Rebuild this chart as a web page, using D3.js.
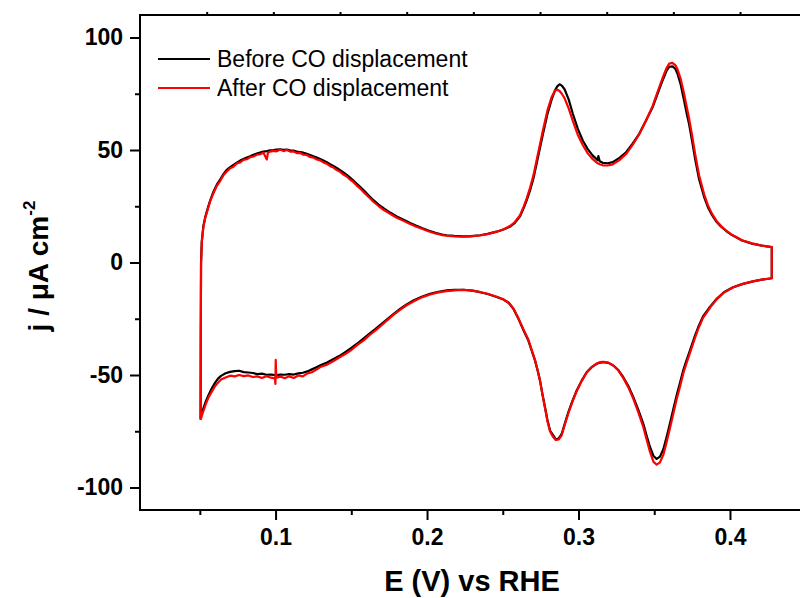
<!DOCTYPE html>
<html>
<head>
<meta charset="utf-8">
<script src="https://cdn.jsdelivr.net/npm/d3@7"></script>
<style>
  body { margin: 0; background: #fff; }
  text { font-family: "Liberation Sans", Arial, sans-serif; }
</style>
</head>
<body>
<div id="chart"></div>
<script>
// ---- data ----
// anodic branch (0.05 -> 0.43 V)
var upE = [0.0505,0.0506,0.0508,0.0513,0.0523,0.0535,0.0546,0.0557,0.0568,0.0590,0.0612,0.0635,0.0657,0.0678,0.0700,0.0722,0.0744,0.0766,0.0788,0.0810,0.0832,0.0854,0.0876,0.0898,0.0920,0.0942,0.0950,0.0964,0.0985,0.1007,0.1030,0.1052,0.1074,0.1096,0.1118,0.1140,0.1162,0.1184,0.1206,0.1228,0.1250,0.1272,0.1294,0.1316,0.1338,0.1360,0.1382,0.1404,0.1426,0.1448,0.1470,0.1492,0.1514,0.1536,0.1560,0.1590,0.1620,0.1646,0.1680,0.1715,0.1756,0.1800,0.1845,0.1888,0.1930,0.1970,0.2009,0.2060,0.2100,0.2130,0.2180,0.2240,0.2290,0.2350,0.2400,0.2460,0.2510,0.2550,0.2580,0.2614,0.2640,0.2658,0.2680,0.2702,0.2730,0.2766,0.2795,0.2823,0.2845,0.2860,0.2875,0.2890,0.2908,0.2935,0.2963,0.2995,0.3028,0.3060,0.3094,0.3127,0.3131,0.3140,0.3160,0.3193,0.3226,0.3270,0.3314,0.3357,0.3401,0.3445,0.3489,0.3522,0.3555,0.3580,0.3599,0.3620,0.3640,0.3653,0.3675,0.3697,0.3715,0.3730,0.3750,0.3770,0.3796,0.3830,0.3855,0.3882,0.3910,0.3940,0.3975,0.4013,0.4080,0.4145,0.4210,0.4276];
var upBefore = [-69.5,-35,0,9.5,16,20,22.6,25.2,27.5,31.5,34.6,37,39.4,41.2,42.4,43.4,44.4,45.3,46.0,46.7,47.2,47.9,48.4,48.9,49.3,49.5,49.6,49.9,50.0,50.2,50.3,50.1,50.2,49.9,49.7,49.3,49.1,48.8,48.3,47.8,47.2,46.7,46.0,45.3,44.6,43.7,42.9,42.0,41.0,40.0,38.9,37.7,36.4,35.0,33.5,31.5,29.4,27.7,25.7,24.0,22.2,20.5,19.0,17.6,16.3,15.2,14.2,13.1,12.4,12.1,11.8,11.6,11.7,12.1,12.7,13.7,14.8,16.0,17.6,20.5,24.5,27.6,32.0,37.2,46.0,57.3,66.0,72.5,76.5,78.3,79.2,78.6,77.0,72.5,66.0,59.5,54.2,50.5,47.5,45.5,47.3,45.0,44.3,44.1,44.6,46.5,49.0,52.8,57.2,63.0,69.0,75.0,80.9,85.0,87.0,87.2,86.0,84.0,79.0,72.0,66.0,61.5,54.0,46.0,37.0,29.0,24.5,21.0,18.2,16.0,14.0,12.2,9.8,8.4,7.5,6.8];
var upAfter = [-70,-36,-1,9,15.5,19.6,22.1,24.6,27.2,30.8,34.1,36.3,38.9,40.4,41.9,42.6,44.0,44.5,45.6,45.9,46.8,47.1,47.9,48.1,48.8,45.8,48.9,49.3,49.6,49.4,50.2,49.5,50.0,49.3,49.4,48.6,48.7,47.9,47.8,46.9,46.6,45.8,45.4,44.5,43.9,42.8,42.2,41.1,40.3,39.1,38.2,36.8,35.7,34.2,32.8,30.7,28.8,27.0,25.1,23.3,21.7,19.9,18.5,17.1,15.9,14.9,13.9,12.8,12.2,11.9,11.6,11.5,11.6,12.0,12.6,13.7,14.9,16.3,18.0,21.0,25.2,28.5,33.2,38.6,47.6,59.0,67.6,73.6,76.4,76.8,76.2,75.0,73.0,68.5,62.8,56.8,52.2,48.6,45.9,44.1,44.0,43.7,43.2,43.1,43.6,45.5,48.2,52.3,57.0,63.0,69.5,75.8,82.0,86.3,88.4,88.7,87.6,86.0,81.5,75.0,69.0,64.0,56.5,48.3,38.8,30.2,25.4,21.6,18.6,16.3,14.2,12.3,9.9,8.5,7.5,6.8];

// cathodic branch (0.43 -> 0.05 V)
var downE = [0.4276,0.4210,0.4152,0.4080,0.4020,0.3960,0.3914,0.3870,0.3822,0.3790,0.3769,0.3736,0.3710,0.3692,0.3670,0.3648,0.3625,0.3604,0.3580,0.3560,0.3538,0.3516,0.3495,0.3472,0.3450,0.3428,0.3395,0.3362,0.3330,0.3296,0.3263,0.3230,0.3197,0.3164,0.3142,0.3120,0.3087,0.3054,0.3021,0.2988,0.2960,0.2933,0.2910,0.2889,0.2870,0.2850,0.2830,0.2812,0.2795,0.2779,0.2762,0.2746,0.2730,0.2713,0.2690,0.2669,0.2636,0.2600,0.2570,0.2540,0.2500,0.2460,0.2400,0.2350,0.2300,0.2240,0.2180,0.2130,0.2075,0.2020,0.1965,0.1910,0.1865,0.1822,0.1780,0.1740,0.1700,0.1660,0.1620,0.1580,0.1540,0.1500,0.1460,0.1420,0.1380,0.1340,0.1300,0.1270,0.1240,0.1210,0.1180,0.1150,0.1120,0.1090,0.1060,0.1030,0.1005,0.1001,0.0999,0.0996,0.0970,0.0940,0.0910,0.0880,0.0850,0.0820,0.0790,0.0760,0.0730,0.0700,0.0670,0.0640,0.0620,0.0600,0.0580,0.0560,0.0540,0.0525,0.0512,0.0505];
var downBefore = [-7.0,-7.6,-8.4,-9.6,-11.0,-13.2,-16.0,-19.5,-24.0,-28.8,-32.5,-39.0,-44.0,-47.8,-53.5,-59.0,-65.5,-71.5,-78.0,-83.0,-86.3,-87.3,-86.0,-82.0,-77.0,-71.7,-65.5,-59.9,-55.0,-51.0,-47.8,-45.8,-44.6,-44.3,-44.5,-45.0,-46.5,-48.8,-52.5,-56.9,-61.5,-66.5,-71.5,-76.2,-78.2,-78.6,-76.5,-74.7,-70.0,-64.3,-58.5,-52.5,-48.0,-43.6,-39.0,-34.7,-30.0,-24.5,-20.6,-18.0,-16.3,-15.3,-14.0,-13.2,-12.5,-12.1,-12.2,-12.4,-13.0,-13.9,-15.2,-16.9,-18.6,-20.6,-22.8,-25.0,-27.3,-29.5,-31.6,-33.8,-36.0,-38.0,-39.8,-41.6,-43.0,-44.4,-45.6,-46.6,-47.5,-48.4,-49.0,-49.3,-49.8,-49.6,-49.9,-49.8,-50.1,-50.2,-50.3,-50.0,-49.8,-49.9,-49.4,-49.6,-49.1,-48.9,-48.7,-48.1,-48.3,-48.6,-49.2,-50.4,-51.6,-53.5,-55.8,-58.5,-61.6,-64.5,-67.5,-69.5];
var downAfter = [-7.0,-7.6,-8.4,-9.6,-11.1,-13.4,-16.3,-19.9,-24.6,-29.6,-33.5,-40.2,-45.4,-49.2,-55.2,-60.8,-67.5,-73.6,-80.3,-85.5,-88.8,-89.8,-88.6,-84.2,-78.8,-73.2,-66.6,-60.6,-55.6,-51.4,-48.0,-45.8,-44.5,-44.1,-44.3,-44.9,-46.5,-48.9,-52.7,-57.2,-61.9,-67.0,-72.0,-76.8,-78.6,-78.9,-77.3,-75.0,-70.5,-64.8,-58.8,-52.6,-47.8,-43.3,-38.6,-34.3,-29.6,-24.3,-20.4,-17.9,-16.2,-15.2,-13.9,-13.1,-12.5,-12.2,-12.4,-12.7,-13.3,-14.2,-15.5,-17.3,-19.0,-21.1,-23.2,-25.5,-27.8,-30.2,-32.3,-34.7,-36.6,-38.9,-40.7,-42.2,-43.9,-45.4,-46.3,-47.6,-48.8,-49.3,-50.6,-50.2,-51.3,-50.6,-51.4,-50.7,-51.2,-43.3,-54.0,-51.5,-51.2,-50.5,-51.3,-50.6,-50.9,-50.2,-50.5,-50.0,-50.6,-50.3,-51.1,-52.0,-53.4,-55.0,-57.3,-59.6,-62.8,-65.7,-68.3,-70.0];

var seriesNames = ["Before CO displacement", "After CO displacement"];
var seriesColors = ["#000000", "#ff0000"];

var xMajor = [0.1, 0.2, 0.3, 0.4];
var xMinor = [0.05, 0.15, 0.25, 0.35, 0.45];
var yMajor = [-100, -50, 0, 50, 100];
var yMinor = [-75, -25, 25, 75];

// ---- layout ----
var svgWidth = 800;
var svgHeight = 598;
var plotLeft = 140, plotTop = 15, plotBottom = 510, plotRight = 836;
var font = '"Liberation Sans", Arial, sans-serif';

var svg = d3.select("#chart").append("svg")
  .attr("width", svgWidth)
  .attr("height", svgHeight);

var x = d3.scaleLinear().domain([0.0105, 0.47]).range([plotLeft, plotRight]);
var y = d3.scaleLinear().domain([-110, 110]).range([plotBottom, plotTop]);
// the top frame carries its own evenly spaced ticks
var xTop = d3.scaleLinear().domain([0, 10]).range([plotLeft, 806.7]);

function styleAxis(g, size) {
  g.select(".domain").remove();
  g.selectAll("line").attr("stroke", "#000").attr("stroke-width", 2);
  g.attr("font-family", font).attr("font-size", size).attr("font-weight", "bold");
  g.selectAll("text").attr("fill", "#000");
}

// minor ticks
svg.append("g")
  .attr("transform", `translate(0, ${plotBottom})`)
  .call(d3.axisBottom(x).tickValues(xMinor).tickSize(5).tickFormat(""))
  .call(styleAxis, 23);
svg.append("g")
  .attr("transform", `translate(${plotLeft}, 0)`)
  .call(d3.axisLeft(y).tickValues(yMinor).tickSize(5).tickFormat(""))
  .call(styleAxis, 23);

// major ticks + labels (plain hyphen for negatives, like the original)
svg.append("g")
  .attr("transform", `translate(0, ${plotBottom})`)
  .call(d3.axisBottom(x).tickValues(xMajor).tickSize(10).tickPadding(9).tickFormat(d => d.toFixed(1)))
  .call(styleAxis, 23);
svg.append("g")
  .attr("transform", `translate(${plotLeft}, 0)`)
  .call(d3.axisLeft(y).tickValues(yMajor).tickSize(10).tickPadding(7).tickFormat(d => String(d)))
  .call(styleAxis, 23);
svg.append("g")
  .attr("transform", `translate(0, ${plotTop})`)
  .call(d3.axisTop(xTop).tickValues(d3.range(1, 11)).tickSize(3).tickFormat(""))
  .call(styleAxis, 23);

// frame
svg.append("rect")
  .attr("x", plotLeft)
  .attr("y", plotTop)
  .attr("width", plotRight - plotLeft)
  .attr("height", plotBottom - plotTop)
  .attr("fill", "none")
  .attr("stroke", "#000")
  .attr("stroke-width", 2);

// curves: anodic then cathodic sweep, one closed loop per series
function loop(upVals, downVals) {
  var pts = upE.map((e, i) => [e, upVals[i]]);
  return pts.concat(downE.map((e, i) => [e, downVals[i]]));
}
var line = d3.line()
  .x(d => x(d[0]))
  .y(d => y(d[1]));

var loops = [loop(upBefore, downBefore), loop(upAfter, downAfter)];
svg.selectAll("path.cv")
  .data(loops)
  .enter()
  .append("path")
  .attr("class", "cv")
  .attr("d", line)
  .attr("fill", "none")
  .attr("stroke", (d, i) => seriesColors[i])
  .attr("stroke-width", 2.2)
  .attr("stroke-linejoin", "round");

// legend
var legend = svg.append("g");
seriesNames.forEach(function(name, i) {
  var ly = 59 + i * 29;
  legend.append("line")
    .attr("x1", 158).attr("x2", 210)
    .attr("y1", ly).attr("y2", ly)
    .attr("stroke", seriesColors[i])
    .attr("stroke-width", 2.2);
  legend.append("text")
    .attr("x", 217)
    .attr("y", ly + 8)
    .attr("font-size", 23)
    .attr("fill", "#000")
    .text(name);
});

// axis titles
svg.append("text")
  .attr("x", 472)
  .attr("y", 591)
  .attr("text-anchor", "middle")
  .attr("font-size", 29)
  .attr("font-weight", "bold")
  .text("E (V) vs RHE");

var yTitle = svg.append("text")
  .attr("transform", "translate(48, 266) rotate(-90)")
  .attr("text-anchor", "middle")
  .attr("font-size", 28)
  .attr("font-weight", "bold");
yTitle.append("tspan").text("j / \u03bcA cm");
yTitle.append("tspan")
  .attr("font-size", 17)
  .attr("dy", -13)
  .text("-2");
</script>
</body>
</html>
